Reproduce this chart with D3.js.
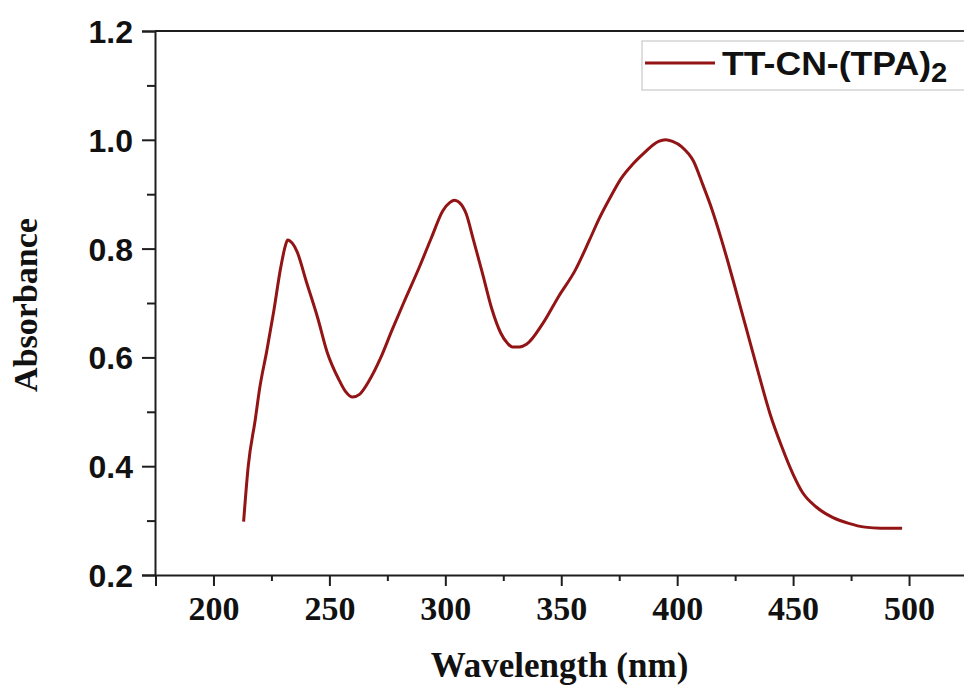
<!DOCTYPE html>
<html>
<head>
<meta charset="utf-8">
<script src="https://cdn.jsdelivr.net/npm/d3@7/dist/d3.min.js"></script>
<style>
  html, body { margin: 0; padding: 0; background: #ffffff; }
  svg { display: block; }
</style>
</head>
<body>
<script>
// UV-Vis absorption spectrum of TT-CN-(TPA)2
const wavelengths = [213, 215, 218, 220, 223, 226, 229, 231, 232, 234, 236, 240, 245, 249, 254, 257, 260, 263, 267,
  272, 277, 282, 289, 294, 299, 302, 304, 306, 309, 312, 316, 320, 324, 327, 329, 332, 335, 342, 349, 356,
  362, 366, 371, 376, 381, 386, 390, 392, 395, 398, 402, 407, 411, 415, 419, 422, 425, 430, 435, 440,
  445, 450, 454, 460, 467, 474, 481, 488, 497];
const absorbance = [0.298, 0.400, 0.485, 0.545, 0.612, 0.685, 0.765, 0.805, 0.816, 0.810, 0.795, 0.740, 0.672, 0.610, 0.560, 0.537, 0.527, 0.532, 0.556,
  0.598, 0.650, 0.700, 0.768, 0.820, 0.870, 0.885, 0.889, 0.885, 0.864, 0.818, 0.755, 0.690, 0.644, 0.625, 0.619, 0.619, 0.624, 0.662, 0.713, 0.760,
  0.814, 0.852, 0.893, 0.930, 0.956, 0.977, 0.992, 0.997, 1.000, 0.997, 0.987, 0.961, 0.918, 0.872, 0.818, 0.774, 0.728, 0.650, 0.572, 0.497,
  0.437, 0.385, 0.352, 0.325, 0.306, 0.295, 0.288, 0.286, 0.286];
const xTicks = [200, 250, 300, 350, 400, 450, 500];
const xMinorTicks = [225, 275, 325, 375, 425, 475];
const yTicks = [0.2, 0.4, 0.6, 0.8, 1.0, 1.2];
const yMinorTicks = [0.3, 0.5, 0.7, 0.9, 1.1];
const seriesName = "TT-CN-(TPA)";
const seriesSub = "2";

const W = 964, H = 686;
const lineColor = "#931414";
const axisColor = "#1e1e1e";

const svg = d3.select("body").append("svg").attr("width", W).attr("height", H);

const x = d3.scaleLinear().domain([175, 525]).range([155.5, 967]);
const y = d3.scaleLinear().domain([0.2, 1.2]).range([575, 31]);

const axisLeftX = 155, axisBottomY = 575;

// top frame line
svg.append("line")
  .attr("x1", axisLeftX).attr("x2", W).attr("y1", y(1.2)).attr("y2", y(1.2))
  .attr("stroke", axisColor).attr("stroke-width", 2);

// y axis
const yAxis = svg.append("g").attr("transform", `translate(${axisLeftX},0)`)
  .call(d3.axisLeft(y).tickValues(yTicks).tickSize(13).tickFormat(d3.format(".1f")));
svg.append("g").attr("transform", `translate(${axisLeftX},0)`)
  .call(d3.axisLeft(y).tickValues(yMinorTicks).tickSize(8).tickFormat(""))
  .call(g => g.select(".domain").remove());

// x axis
const xAxis = svg.append("g").attr("transform", `translate(0,${axisBottomY})`)
  .call(d3.axisBottom(x).tickValues(xTicks).tickSize(11).tickFormat(d3.format("d")));
svg.append("g").attr("transform", `translate(0,${axisBottomY})`)
  .call(d3.axisBottom(x).tickValues(xMinorTicks).tickSize(6).tickFormat(""))
  .call(g => g.select(".domain").remove());

svg.selectAll(".domain").attr("stroke", axisColor).attr("stroke-width", 2);
svg.selectAll(".tick line").attr("stroke", axisColor).attr("stroke-width", 2);

yAxis.selectAll(".tick text")
  .attr("x", -22).attr("dy", "0.36em")
  .attr("font-family", "'Liberation Sans', Arial, sans-serif")
  .attr("font-weight", "bold").attr("font-size", 32).attr("fill", "#111");

xAxis.selectAll(".tick text")
  .attr("y", 45).attr("dy", 0)
  .attr("font-family", "'Liberation Serif', 'Times New Roman', serif")
  .attr("font-weight", "bold").attr("font-size", 34).attr("fill", "#111");

// axis titles
svg.append("text")
  .attr("x", (axisLeftX + W) / 2).attr("y", 677)
  .attr("text-anchor", "middle")
  .attr("font-family", "'Liberation Serif', 'Times New Roman', serif")
  .attr("font-weight", "bold").attr("font-size", 35).attr("fill", "#111")
  .text("Wavelength (nm)");

svg.append("text")
  .attr("transform", "translate(37,305) rotate(-90)")
  .attr("text-anchor", "middle")
  .attr("font-family", "'Liberation Serif', 'Times New Roman', serif")
  .attr("font-weight", "bold").attr("font-size", 34).attr("fill", "#111")
  .text("Absorbance");

// spectrum
const data = wavelengths.map((w, i) => ({ w, a: absorbance[i] }));
svg.append("path")
  .datum(data)
  .attr("fill", "none")
  .attr("stroke", lineColor)
  .attr("stroke-width", 3)
  .attr("stroke-linejoin", "round")
  .attr("d", d3.line().x(d => x(d.w)).y(d => y(d.a)).curve(d3.curveMonotoneX));

// legend
const legend = svg.append("g");
legend.append("rect")
  .attr("x", 642).attr("y", 41).attr("width", 340).attr("height", 49)
  .attr("fill", "#ffffff").attr("stroke", "#c8c8c8").attr("stroke-width", 1.2);
legend.append("line")
  .attr("x1", 645).attr("x2", 715).attr("y1", 63).attr("y2", 63)
  .attr("stroke", lineColor).attr("stroke-width", 3);
const lt = legend.append("text")
  .attr("transform", "translate(722,75) scale(1.08,1)")
  .attr("font-family", "'Liberation Sans', Arial, sans-serif")
  .attr("font-weight", "bold").attr("font-size", 33).attr("fill", "#111");
lt.append("tspan").text(seriesName);
lt.append("tspan").attr("dy", 7).attr("font-size", 27).text(seriesSub);
</script>
</body>
</html>
